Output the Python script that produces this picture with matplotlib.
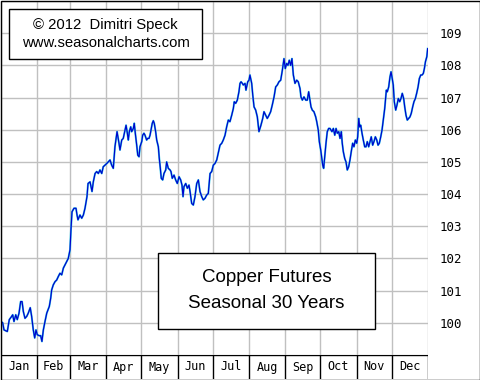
import matplotlib
matplotlib.use("Agg")
import matplotlib.pyplot as plt
from matplotlib.patches import Rectangle

# ---- data (day of year, seasonal index value) ----
days = [0, 1.45, 2.56, 5.39, 7.09, 9.15, 10.0, 11.1, 12.6, 13.9, 15.4, 16.8, 18.0, 19.1, 20.5, 22.0,
        23.3, 25.0, 26.2, 27.6, 28.8, 29.9, 31.0, 32.7, 33.9, 35.0, 36.2, 37.6, 39.1, 41.3, 42.5, 43.3,
        44.7, 46.2, 47.6, 49.0, 50.4, 51.9, 53.3, 54.7, 56.2, 57.5, 59.0, 59.8, 60.7, 62.4, 64.1, 65.0,
        65.8, 67.5, 69.0, 70.4, 71.8, 73.5, 74.4, 76.1, 77.8, 78.9, 80.4, 81.8, 83.2, 84.6, 86.1, 87.4,
        88.9, 90.4, 91.7, 93.2, 94.6, 96.0, 97.4, 99.2, 100.9, 101.7, 103.2, 104.5, 106.0, 106.9, 108.0,
        108.8, 109.7, 110.9, 111.7, 113.1, 113.9, 114.8, 116.0, 116.9, 118.0, 118.8, 120.3, 121.1, 122.2,
        123.1, 124.5, 125.4, 126.5, 127.4, 128.2, 129.3, 130.2, 131.0, 132.2, 133.1, 134.5, 135.3, 136.2,
        137.0, 138.2, 139.3, 140.8, 141.6, 143.0, 144.5, 145.3, 146.4, 147.9, 149.3, 150.7, 152.2, 153.6,
        154.7, 155.6, 156.4, 157.9, 159.3, 160.7, 161.6, 163.0, 164.4, 165.8, 167.3, 168.7, 170.1, 171.6,
        172.9, 174.4, 175.8, 177.2, 178.7, 180.1, 181.5, 182.9, 184.4, 185.7, 187.2, 188.7, 190.0, 191.5,
        192.9, 194.3, 195.7, 197.2, 198.6, 199.4, 200.6, 202.0, 203.4, 204.3, 205.2, 206.3, 207.1, 208.6,
        209.4, 210.9, 212.0, 212.8, 214.3, 215.2, 216.3, 217.7, 219.1, 220.5, 222.2, 223.7, 224.8, 226.3,
        227.6, 229.1, 230.5, 231.9, 233.4, 234.8, 236.2, 237.6, 239.1, 240.5, 241.9, 243.0, 244.2, 245.3,
        246.4, 247.6, 248.7, 249.9, 251.3, 252.8, 254.1, 255.6, 256.4, 257.6, 259.0, 260.5, 261.8, 263.0,
        264.1, 265.0, 266.1, 267.5, 269.0, 269.9, 271.2, 272.1, 273.3, 274.1, 275.0, 275.8, 277.0, 277.8,
        278.9, 280.1, 281.2, 282.9, 284.1, 285.3, 286.4, 287.5, 288.7, 289.8, 290.9, 291.7, 292.6, 293.8,
        294.9, 296.0, 297.2, 298.3, 299.4, 300.6, 301.7, 302.9, 304.1, 304.9, 305.8, 306.6, 307.5, 308.6,
        309.7, 310.9, 312.0, 313.1, 314.3, 315.4, 316.5, 317.7, 318.8, 320.0, 321.2, 322.3, 323.4, 324.6,
        325.7, 326.8, 328.0, 328.8, 329.4, 330.2, 331.4, 332.5, 333.4, 334.2, 335.3, 336.2, 337.4, 338.5,
        339.6, 340.8, 341.9, 343.0, 344.2, 345.1, 346.2, 347.3, 348.5, 349.6, 350.7, 351.9, 353.0, 354.2,
        355.3, 356.5, 357.6, 358.8, 359.9, 361.0, 361.9, 362.8, 364.0, 364.7]

values = [100.04, 100.0, 99.78, 99.73, 100.1, 100.2, 100.25, 100.04, 100.25, 100.1, 100.3, 100.66, 100.66,
          100.35, 100.14, 100.2, 100.3, 100.47, 100.2, 99.78, 99.53, 99.78, 99.63, 99.6, 99.6, 99.42, 99.78,
          100.04, 100.3, 100.51, 100.77, 101.02, 101.18, 101.28, 101.33, 101.44, 101.54, 101.49, 101.7,
          101.8, 101.9, 102.0, 102.27, 102.89, 103.45, 103.56, 103.56, 103.35, 103.2, 103.35, 103.25,
          103.35, 103.56, 103.92, 104.33, 104.38, 104.08, 104.38, 104.64, 104.7, 104.64, 104.75, 104.64,
          104.85, 104.9, 104.95, 105.0, 105.06, 104.9, 104.8, 105.47, 105.94, 105.57, 105.37, 105.68,
          105.73, 105.99, 106.14, 105.89, 105.68, 105.94, 106.09, 105.94, 106.04, 106.2, 105.89, 105.52,
          105.21, 105.16, 105.47, 105.63, 105.83, 105.89, 105.83, 105.68, 105.73, 105.73, 105.83, 105.99,
          106.2, 106.28, 106.2, 105.94, 105.68, 105.47, 105.11, 104.8, 104.49, 104.44, 104.64, 104.75,
          105.0, 104.8, 104.75, 104.7, 104.49, 104.59, 104.44, 104.33, 104.54, 104.44, 104.28, 103.92,
          104.23, 104.33, 104.18, 104.28, 104.08, 103.71, 103.66, 103.92, 104.33, 104.44, 104.08, 103.92,
          103.82, 103.87, 103.97, 104.02, 104.64, 104.7, 104.9, 104.95, 105.06, 105.27, 105.52, 105.58,
          105.68, 105.83, 106.09, 106.3, 106.25, 106.45, 106.66, 106.87, 106.82, 106.92, 107.18, 107.44,
          107.49, 107.44, 107.39, 107.44, 107.23, 107.49, 107.54, 107.7, 107.44, 107.08, 106.71, 106.61,
          106.4, 105.94, 106.14, 106.35, 106.56, 106.45, 106.35, 106.45, 106.56, 106.77, 107.02,
          107.33, 107.39, 107.49, 107.54, 107.85, 108.21, 107.9, 108.06, 108.0, 108.16, 108.0, 108.21,
          107.7, 107.44, 107.54, 107.49, 107.28, 107.02, 106.92, 107.02, 106.92, 106.92, 107.18, 106.92,
          106.71, 106.61, 106.56, 106.4, 106.25, 105.99, 105.63, 105.37, 105.16, 104.9, 104.8, 105.27,
          105.58, 105.94, 106.04, 106.04, 105.94, 106.04, 105.83, 106.04, 105.89, 105.94, 105.73, 105.94,
          105.58, 105.32, 105.11, 105.0, 104.75, 104.85, 105.06, 105.32, 105.58, 105.47, 105.68, 105.58,
          105.78, 106.35, 106.09, 106.14, 105.89, 105.68, 105.47, 105.47, 105.63, 105.47, 105.63, 105.78,
          105.52, 105.63, 105.78, 105.68, 105.52, 105.58, 105.78, 105.99, 106.3, 106.66, 106.97, 107.23,
          107.18, 107.33, 107.64, 107.8, 107.64, 107.39, 106.87, 106.61, 106.77, 106.97, 106.87, 106.97,
          107.13, 106.97, 106.71, 106.45, 106.3, 106.35, 106.4, 106.51, 106.71, 106.87, 106.97, 107.13,
          107.33, 107.59, 107.7, 107.7, 107.75, 107.9, 108.11, 108.27, 108.52]

months = ["Jan", "Feb", "Mar", "Apr", "May", "Jun", "Jul", "Aug", "Sep", "Oct", "Nov", "Dec"]
month_starts = [0, 31, 59, 90, 120, 151, 181, 212, 243, 273, 304, 334, 365]
y_ticks = [99, 100, 101, 102, 103, 104, 105, 106, 107, 108, 109, 110]
y_labels = ["", "100", "101", "102", "103", "104", "105", "106", "107", "108", "109", ""]

W, H = 480, 380
fig = plt.figure(figsize=(W / 100, H / 100), dpi=100)
fig.patch.set_facecolor("white")

# main plot area
ax = fig.add_axes([1 / W, 25 / H, 427 / W, 354 / H])
ax.set_xlim(0, 365)
ax.set_ylim(99, 110)
ax.set_xticks(month_starts)
ax.set_xticklabels([])
ax.set_yticks(y_ticks)
ax.set_yticklabels(y_labels)
ax.yaxis.tick_right()
ax.tick_params(axis="y", length=0, pad=8.5, labelsize=9)
ax.tick_params(axis="x", length=0)
for lab in ax.get_yticklabels():
    lab.set_family("DejaVu Sans Mono")
ax.grid(True, color="#c0c0c0", linewidth=1.0)
ax.set_axisbelow(True)
for s in ax.spines.values():
    s.set_visible(False)

ax.plot(days, values, color="#30c8e8", linewidth=1.4, zorder=3)
ax.plot(days, values, color="#0000cc", linewidth=0.85, zorder=4)

# month band
bx = fig.add_axes([1 / W, 1 / H, 427 / W, 24 / H])
bx.set_xlim(0, 365)
bx.set_ylim(0, 1)
bx.set_xticks([])
bx.set_yticks([])
for s in bx.spines.values():
    s.set_visible(False)
bx.axhline(1, color="black", linewidth=1.0)
for m in month_starts[1:]:
    bx.axvline(m, color="black", linewidth=1.0)
for i, name in enumerate(months):
    bx.text((month_starts[i] + month_starts[i + 1]) / 2, 0.5, name, ha="center", va="center",
            fontsize=8.5, family="DejaVu Sans Mono")

# figure border
fig.patches.append(Rectangle((0.5 / W, 0.5 / H), (W - 1) / W, (H - 1) / H, transform=fig.transFigure,
                             fill=False, edgecolor="black", linewidth=1.0, zorder=10))

# copyright box
fig.patches.append(Rectangle((9 / W, 1 - 59 / H), 193 / W, 50 / H, transform=fig.transFigure,
                             facecolor="white", edgecolor="black", linewidth=1.0, zorder=5))
fig.text(105.5 / W, 1 - 25 / H, "\u00a9 2012  Dimitri Speck", ha="center", va="center",
         fontsize=10.7, family="Liberation Sans", zorder=6)
fig.text(105.5 / W, 1 - 43 / H, "www.seasonalcharts.com", ha="center", va="center",
         fontsize=10.7, family="Liberation Sans", zorder=6)

# title box
fig.patches.append(Rectangle((158 / W, 1 - 329 / H), 217 / W, 76 / H, transform=fig.transFigure,
                             facecolor="white", edgecolor="black", linewidth=1.0, zorder=5))
fig.text(266.5 / W, 1 - 277 / H, "Copper Futures", ha="center", va="center",
         fontsize=13.5, family="Liberation Sans", zorder=6)
fig.text(266.5 / W, 1 - 303 / H, "Seasonal 30 Years", ha="center", va="center",
         fontsize=13.5, family="Liberation Sans", zorder=6)

fig.savefig("out.png", dpi=100)
